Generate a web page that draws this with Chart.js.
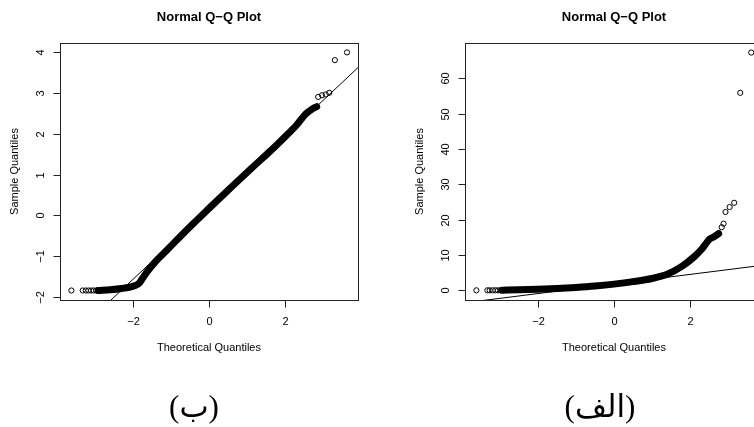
<!DOCTYPE html>
<html>
    <head>
        <meta charset="UTF-8">
        <title>Normal Q-Q Plot</title>
        <style>
            html, body {
                margin: 0;
                padding: 0;
                background: #fff;
                overflow: hidden;
            }
            #page {
                position: relative;
                width: 754px;
                height: 427px;
                overflow: hidden;
            }
            canvas {
                position: absolute;
                top: 0;
            }
            .caption {
                position: absolute;
                top: 388px;
                width: 120px;
                text-align: center;
                font-family: "Liberation Serif", "DejaVu Sans", serif;
                font-size: 31px;
                line-height: 38px;
                color: #000;
            }
        </style>
        <script src="https://cdn.jsdelivr.net/npm/chart.js"></script>
    </head>
    <body>
        <div id="page">
            <canvas id="qqLeft" width="377" height="427" style="left:0px;width:377px;height:427px"></canvas>
            <canvas id="qqRight" width="400" height="427" style="left:377px;width:400px;height:427px"></canvas>
            <div class="caption" dir="rtl" style="left:134px">(ب)</div>
            <div class="caption" dir="rtl" style="left:540px">(الف)</div>
        </div>
        <script>
            // left panel (ب)
            const leftBandX = [-2.92, -2.6, -2.3, -2.1, -1.95, -1.85, -1.78, -1.64, -1.4, -1.12, -0.6, 0, 0.6, 1.2, 1.6, 2.0, 2.3, 2.55, 2.72, 2.84];
            const leftBandY = [-1.84, -1.82, -1.79, -1.76, -1.72, -1.67, -1.58, -1.39, -1.12, -0.86, -0.37, 0.17, 0.70, 1.22, 1.56, 1.92, 2.20, 2.48, 2.60, 2.66];
            const leftTailX = [-3.63, -3.33, -3.25, -3.18, -3.11, -3.04, -2.97, 2.84, 2.88, 2.98, 3.08, 3.17, 3.32, 3.64];
            const leftTailY = [-1.84, -1.84, -1.84, -1.84, -1.84, -1.84, -1.84, 2.66, 2.90, 2.94, 2.96, 3.00, 3.80, 3.99];
            const leftLineX = [-4, 4];
            const leftLineY = [-3.31, 3.68];
            const leftYTicks = [-2, -1, 0, 1, 2, 3, 4];

            // right panel (الف)
            const rightBandX = [-2.95, -2.5, -2.0, -1.5, -1.0, -0.5, 0, 0.5, 1.0, 1.4, 1.8, 2.1, 2.3, 2.42, 2.52, 2.64, 2.76];
            const rightBandY = [0.1, 0.2, 0.35, 0.55, 0.85, 1.25, 1.8, 2.5, 3.4, 4.6, 6.9, 9.4, 11.5, 13.2, 14.5, 15.2, 16.1];
            const rightTailX = [-3.63, -3.34, -3.28, -3.2, -3.13, -3.06, -2.99, 2.84, 2.89, 2.94, 3.05, 3.17, 3.33, 3.62];
            const rightTailY = [0.05, 0.05, 0.05, 0.05, 0.05, 0.05, 0.05, 17.9, 18.9, 22.2, 23.6, 24.8, 55.9, 67.3];
            const rightLineX = [-4, 4];
            const rightLineY = [-3.56, 7.24];
            const rightYTicks = [0, 10, 20, 30, 40, 50, 60];

            const xTicks = [-2, 0, 2];
            const mainTitle = 'Normal Q\u2212Q Plot';
            const xTitle = 'Theoretical Quantiles';
            const yTitle = 'Sample Quantiles';

            const FONT = '"Liberation Sans", Arial, Helvetica, sans-serif';

            function pts(xs, ys) {
                return xs.map(function(x, i) { return {x: x, y: ys[i]}; });
            }

            function fmt(v) {
                return String(v).replace('-', '\u2212');
            }

            // R style box, ticks and labels, drawn from the chart's own scales
            const rFrame = {
                id: 'rFrame',
                afterDraw(chart, args, opts) {
                    const ctx = chart.ctx;
                    const a = chart.chartArea;
                    const sx = chart.scales.x;
                    const sy = chart.scales.y;
                    const L = Math.round(a.left) + 0.5;
                    const R = Math.round(a.right) + 0.5;
                    const T = Math.round(a.top) + 0.5;
                    const B = Math.round(a.bottom) + 0.5;
                    ctx.save();
                    ctx.strokeStyle = '#222';
                    ctx.lineWidth = 1;
                    ctx.strokeRect(L, T, R - L, B - T);

                    ctx.fillStyle = '#000';
                    ctx.font = '11px ' + FONT;
                    ctx.textAlign = 'center';
                    ctx.textBaseline = 'middle';
                    opts.xTicks.forEach(function(v) {
                        const px = Math.round(sx.getPixelForValue(v)) + 0.5;
                        ctx.beginPath();
                        ctx.moveTo(px, B);
                        ctx.lineTo(px, B + 7);
                        ctx.stroke();
                        ctx.fillText(fmt(v), px, B + 21);
                    });
                    opts.yTicks.forEach(function(v) {
                        const py = Math.round(sy.getPixelForValue(v)) + 0.5;
                        ctx.beginPath();
                        ctx.moveTo(L, py);
                        ctx.lineTo(L - 7, py);
                        ctx.stroke();
                        ctx.save();
                        ctx.translate(L - 20, py);
                        ctx.rotate(-Math.PI / 2);
                        ctx.fillText(fmt(v), 0, 0);
                        ctx.restore();
                    });

                    ctx.fillText(opts.xTitle, (a.left + a.right) / 2, B + 47);
                    ctx.save();
                    ctx.translate(L - 46, (a.top + a.bottom) / 2);
                    ctx.rotate(-Math.PI / 2);
                    ctx.fillText(opts.yTitle, 0, 0);
                    ctx.restore();

                    ctx.font = 'bold 13px ' + FONT;
                    ctx.fillText(opts.title, (a.left + a.right) / 2, 17);
                    ctx.restore();
                }
            };

            function makeQQ(id, band, tail, line, yMin, yMax, yTicks, pad) {
                return new Chart(document.getElementById(id), {
                    type: 'scatter',
                    data: {
                        datasets: [
                            {
                                data: line,
                                showLine: true,
                                borderColor: '#000',
                                borderWidth: 1,
                                pointRadius: 0,
                                clip: 0
                            },
                            {
                                data: band,
                                showLine: true,
                                borderColor: '#000',
                                borderWidth: 7,
                                borderCapStyle: 'round',
                                borderJoinStyle: 'round',
                                cubicInterpolationMode: 'monotone',
                                pointRadius: 0
                            },
                            {
                                data: tail,
                                showLine: false,
                                pointStyle: 'circle',
                                pointRadius: 2.6,
                                pointBorderWidth: 1,
                                pointBorderColor: '#000',
                                pointBackgroundColor: 'rgba(0,0,0,0)'
                            }
                        ]
                    },
                    options: {
                        responsive: false,
                        animation: false,
                        layout: { padding: pad },
                        scales: {
                            x: { type: 'linear', min: -3.93, max: 3.93, display: false },
                            y: { type: 'linear', min: yMin, max: yMax, display: false }
                        },
                        plugins: {
                            legend: { display: false },
                            tooltip: { enabled: false },
                            rFrame: {
                                xTicks: xTicks,
                                yTicks: yTicks,
                                title: mainTitle,
                                xTitle: xTitle,
                                yTitle: yTitle
                            }
                        }
                    },
                    plugins: [rFrame]
                });
            }

            makeQQ('qqLeft', pts(leftBandX, leftBandY), pts(leftTailX, leftTailY), pts(leftLineX, leftLineY),
                -2.073, 4.22, leftYTicks, { left: 60, right: 19, top: 43, bottom: 127 });
            makeQQ('qqRight', pts(rightBandX, rightBandY), pts(rightTailX, rightTailY), pts(rightLineX, rightLineY),
                -2.69, 69.99, rightYTicks, { left: 88, right: 14, top: 43, bottom: 127 });
        </script>
    </body>
</html>
